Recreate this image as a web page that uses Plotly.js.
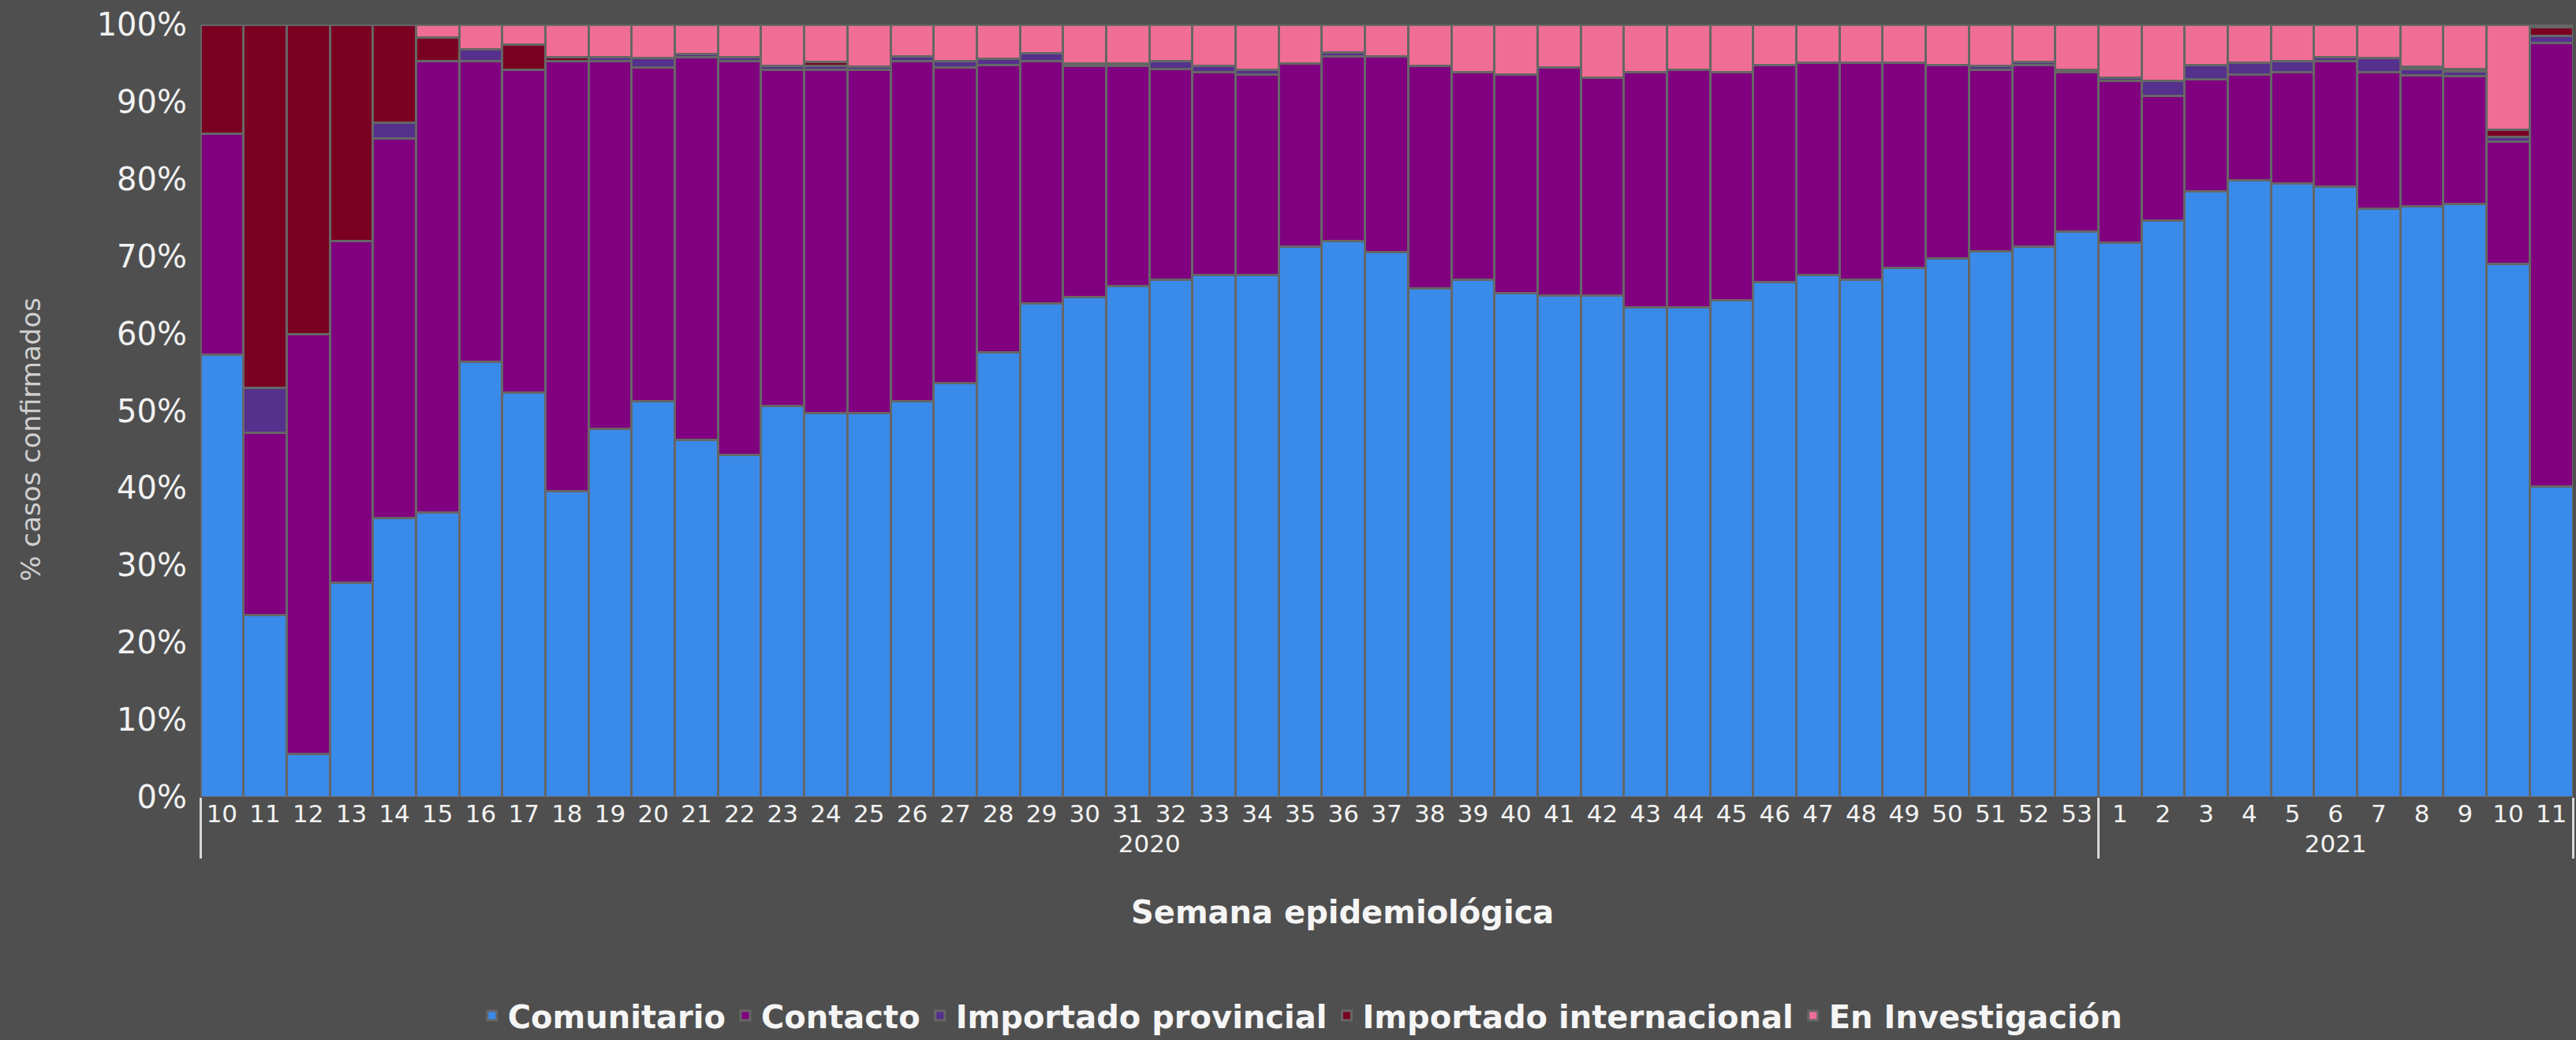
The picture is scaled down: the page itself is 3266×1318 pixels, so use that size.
<!DOCTYPE html>
<html>
<head>
<meta charset="utf-8">
<script src="https://cdn.plot.ly/plotly-3.0.1.min.js"></script>
<style>
  html, body { margin: 0; padding: 0; background: #4f4f4f; }
  #chart { width: 3266px; height: 1318px; }
</style>
</head>
<body>
<div id="chart"></div>
<script>
// Year group and epidemiological week for each bar
const years = [
  "2020","2020","2020","2020","2020","2020","2020","2020","2020","2020","2020",
  "2020","2020","2020","2020","2020","2020","2020","2020","2020","2020","2020",
  "2020","2020","2020","2020","2020","2020","2020","2020","2020","2020","2020",
  "2020","2020","2020","2020","2020","2020","2020","2020","2020","2020","2020",
  "2021","2021","2021","2021","2021","2021","2021","2021","2021","2021","2021"
];
const weeks = [
  "10","11","12","13","14","15","16","17","18","19","20",
  "21","22","23","24","25","26","27","28","29","30","31",
  "32","33","34","35","36","37","38","39","40","41","42",
  "43","44","45","46","47","48","49","50","51","52","53",
  "1","2","3","4","5","6","7","8","9","10","11"
];

// % of confirmed cases by origin
const comunitario = [
  57.3, 23.5, 5.6, 27.7, 36.1, 36.8, 56.3, 52.4, 39.6, 47.7, 51.2,
  46.2, 44.3, 50.6, 49.7, 49.7, 51.2, 53.6, 57.6, 63.9, 64.7, 66.1,
  67.0, 67.6, 67.6, 71.2, 72.0, 70.5, 65.8, 67.0, 65.2, 64.9, 64.9,
  63.4, 63.4, 64.3, 66.7, 67.6, 67.0, 68.5, 69.7, 70.6, 71.2, 73.2,
  71.8, 74.6, 78.4, 79.8, 79.4, 78.9, 76.2, 76.5, 76.5, 69.0, 40.2
];
const contacto = [
  28.6, 23.6, 54.3, 44.3, 49.1, 58.5, 39.0, 41.7, 55.7, 47.6, 43.2,
  49.6, 50.9, 43.5, 44.4, 44.4, 44.1, 40.8, 37.1, 31.4, 29.9, 28.5,
  27.2, 26.2, 25.9, 23.7, 23.9, 25.4, 28.8, 26.8, 28.3, 29.5, 28.2,
  30.4, 30.7, 29.5, 28.0, 27.4, 28.0, 26.5, 25.0, 23.5, 23.5, 20.6,
  20.9, 16.2, 14.5, 13.7, 14.4, 16.2, 17.6, 16.9, 16.4, 15.8, 57.4
];
const importadoProvincial = [
  0, 5.9, 0, 0, 2.1, 0, 1.5, 0, 0, 0.5, 1.3,
  0.4, 0.6, 0.5, 0.5, 0.4, 0.6, 0.9, 0.9, 1.0, 0.3, 0.3,
  1.1, 0.8, 0.6, 0, 0.5, 0, 0, 0, 0, 0, 0,
  0, 0, 0, 0, 0, 0, 0, 0, 0.5, 0.4, 0.3,
  0.4, 1.9, 1.8, 1.5, 1.5, 0.5, 1.9, 0.8, 0.6, 0.6, 0.9
];
const importadoInternacional = [
  14.1, 47.0, 40.1, 28.0, 12.7, 3.0, 0, 3.3, 0.5, 0, 0,
  0, 0, 0, 0.5, 0, 0, 0, 0, 0, 0, 0,
  0, 0, 0, 0, 0, 0, 0, 0, 0, 0, 0,
  0, 0, 0, 0, 0, 0, 0, 0, 0, 0, 0,
  0, 0, 0, 0, 0, 0, 0, 0.3, 0.4, 1.0, 1.1
];
const enInvestigacion = [
  0, 0, 0, 0, 0, 1.7, 3.2, 2.6, 4.2, 4.2, 4.3,
  3.8, 4.2, 5.4, 4.9, 5.5, 4.1, 4.7, 4.4, 3.7, 5.1, 5.1,
  4.7, 5.4, 5.9, 5.1, 3.6, 4.1, 5.4, 6.2, 6.5, 5.6, 6.9,
  6.2, 5.9, 6.2, 5.3, 5.0, 5.0, 5.0, 5.3, 5.4, 4.9, 5.9,
  6.9, 7.3, 5.3, 5.0, 4.7, 4.2, 4.3, 5.5, 5.7, 13.6, 0.4
];

const seriesNames = ["Comunitario", "Contacto", "Importado provincial", "Importado internacional", "En Investigación"];
const seriesValues = [comunitario, contacto, importadoProvincial, importadoInternacional, enInvestigacion];
const seriesColors = ["#3a8aea", "#800080", "#55308d", "#7a0021", "#f06e96"];

const xTitle = "Semana epidemiológica";
const yTitle = "% casos confirmados";

const FONT = "DejaVu Sans, Verdana, sans-serif";

// Plotly orders second-level multicategory labels by first appearance across groups,
// so week labels repeated in a later year get an invisible zero-width suffix to stay in order.
const seenWeeks = {};
const weekLabels = weeks.map(w => {
  const n = seenWeeks[w] || 0;
  seenWeeks[w] = n + 1;
  return w + "\u200B".repeat(n);
});

const traces = seriesNames.map((name, i) => ({
  type: "bar",
  name: name,
  x: [years, weekLabels],
  y: seriesValues[i],
  marker: { color: seriesColors[i], line: { color: "#666666", width: 3 } },
  cliponaxis: false,
  hoverinfo: "skip"
}));

const layout = {
  width: 3266,
  height: 1318,
  paper_bgcolor: "#4f4f4f",
  plot_bgcolor: "#4f4f4f",
  margin: { l: 254, r: 4, t: 31, b: 308, autoexpand: false },
  barmode: "stack",
  barnorm: "percent",
  bargap: 0,
  font: { family: FONT, color: "#f2f2f2" },
  showlegend: true,
  legend: {
    orientation: "h",
    x: 0.464, xanchor: "center",
    y: -0.283, yanchor: "middle",
    font: { family: FONT, size: 40, color: "#f5f5f5", weight: "bold" },
    bgcolor: "rgba(0,0,0,0)",
    traceorder: "normal",
    itemwidth: 30
  },
  xaxis: {
    type: "multicategory",
    showgrid: false,
    zeroline: false,
    showline: false,
    ticks: "",
    tickfont: { family: FONT, size: 31, color: "#f2f2f2" },
    showdividers: true,
    dividercolor: "#d9d9d9",
    dividerwidth: 3,
    automargin: false
  },
  yaxis: {
    range: [0, 100],
    dtick: 10,
    ticksuffix: "%",
    showgrid: false,
    zeroline: false,
    showline: false,
    ticks: "outside",
    ticklen: 8,
    tickcolor: "#4f4f4f",
    tickfont: { family: FONT, size: 40, color: "#f2f2f2" },
    automargin: false
  },
  annotations: [
    {
      text: xTitle,
      xref: "paper", yref: "paper",
      x: 0.4814, y: -0.149,
      xanchor: "center", yanchor: "middle",
      showarrow: false,
      font: { family: FONT, size: 40, color: "#f5f5f5", weight: "bold" }
    },
    {
      text: yTitle,
      xref: "paper", yref: "paper",
      x: -0.0715, y: 0.463,
      xanchor: "center", yanchor: "middle",
      textangle: -90,
      showarrow: false,
      font: { family: FONT, size: 34, color: "#d0d0d0" }
    }
  ]
};

Plotly.newPlot("chart", traces, layout, { staticPlot: true, displayModeBar: false });
</script>
</body>
</html>
